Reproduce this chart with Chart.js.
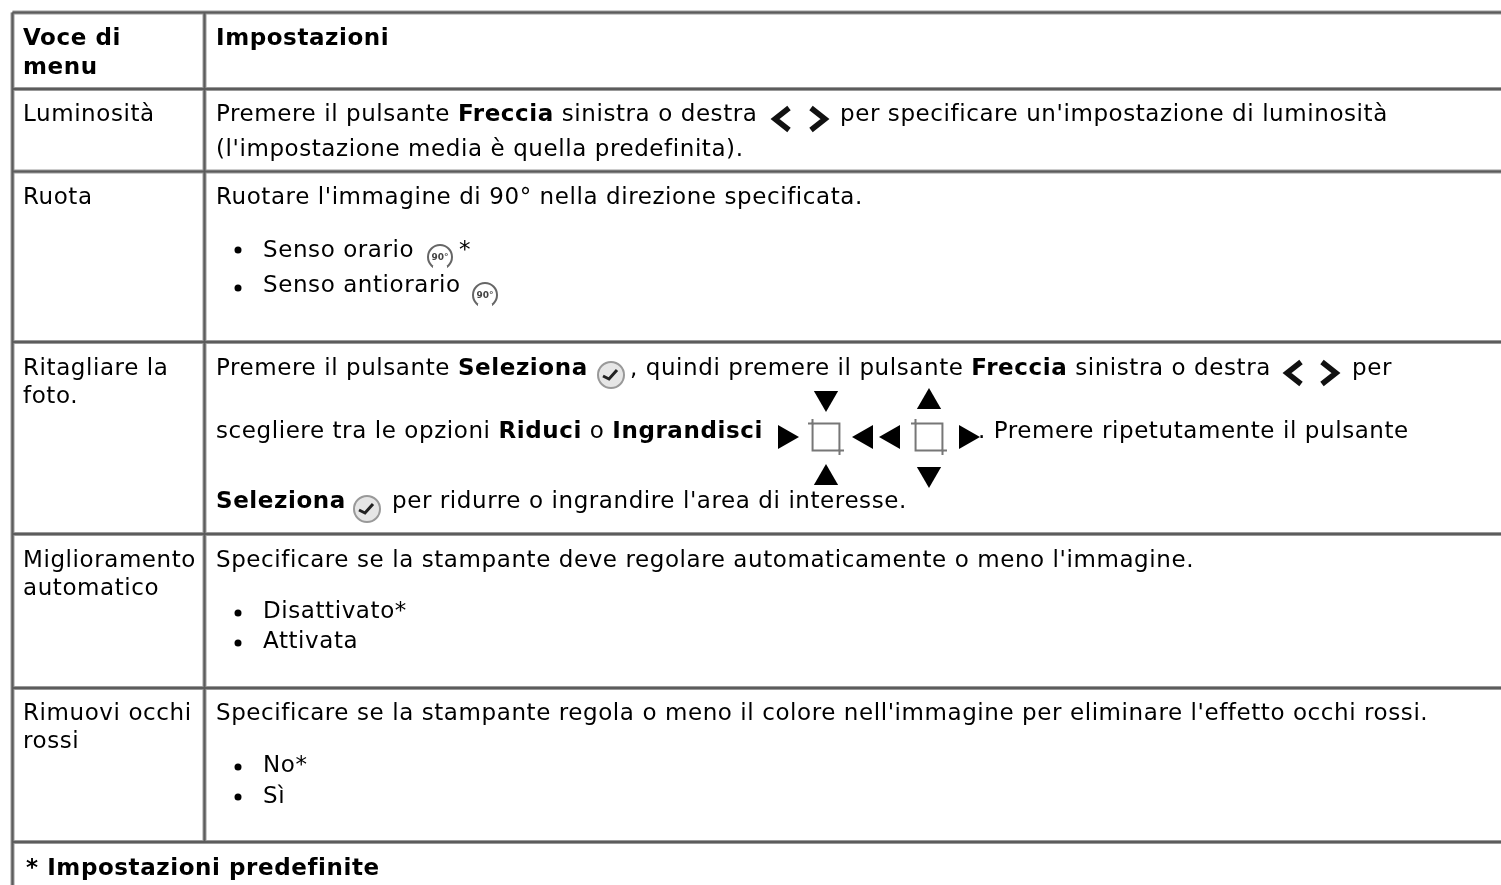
<!DOCTYPE html>
<html>
<head>
<meta charset="utf-8">
<style>
html, body { margin: 0; padding: 0; background: #fff; overflow: hidden; }
#wrap { width: 1501px; height: 885px; position: relative; }
</style>
<script src="https://cdn.jsdelivr.net/npm/chart.js@4"></script>
</head>
<body>
<div id="wrap"><canvas id="table_chart" width="1501" height="885"></canvas></div>
<script>
// table structure, in page units: the chart's axes run 0-1501 and 0-885
var columnEdges = [12.5, 204.5, 1501]
var rowEdges = [12.5, 89, 171.5, 342, 534, 688, 842, 885]

// every text line: x, baseline y, then runs [text, bold]
var textLines = [
	[23, 45, [["Voce di", 1]]],
	[23, 74, [["menu", 1]]],
	[216, 45, [["Impostazioni", 1]]],
	[23, 121, [["Luminosità", 0]]],
	[216, 121, [["Premere il pulsante ", 0], ["Freccia", 1], [" sinistra o destra", 0]]],
	[840, 121, [["per specificare un'impostazione di luminosità", 0]]],
	[216, 156, [["(l'impostazione media è quella predefinita).", 0]]],
	[23, 204, [["Ruota", 0]]],
	[216, 204, [["Ruotare l'immagine di 90° nella direzione specificata.", 0]]],
	[263, 257, [["Senso orario", 0]]],
	[459, 257, [["*", 0]]],
	[263, 292, [["Senso antiorario", 0]]],
	[23, 375, [["Ritagliare la", 0]]],
	[23, 403, [["foto.", 0]]],
	[216, 375, [["Premere il pulsante ", 0], ["Seleziona", 1]]],
	[630, 375, [[", quindi premere il pulsante ", 0], ["Freccia", 1], [" sinistra o destra", 0]]],
	[1352, 375, [["per", 0]]],
	[216, 438, [["scegliere tra le opzioni ", 0], ["Riduci", 1], [" o ", 0], ["Ingrandisci", 1]]],
	[978, 438, [[". Premere ripetutamente il pulsante", 0]]],
	[216, 508, [["Seleziona", 1]]],
	[392, 508, [["per ridurre o ingrandire l'area di interesse.", 0]]],
	[23, 567, [["Miglioramento", 0]]],
	[23, 595, [["automatico", 0]]],
	[216, 567, [["Specificare se la stampante deve regolare automaticamente o meno l'immagine.", 0]]],
	[263, 618, [["Disattivato*", 0]]],
	[263, 648, [["Attivata", 0]]],
	[23, 720, [["Rimuovi occhi", 0]]],
	[23, 748, [["rossi", 0]]],
	[216, 720, [["Specificare se la stampante regola o meno il colore nell'immagine per eliminare l'effetto occhi rossi.", 0]]],
	[263, 772, [["No*", 0]]],
	[263, 803, [["Sì", 0]]],
	[26, 875, [["* Impostazioni predefinite", 1]]]
]
var turnLabels = [[440, 260, "90°"], [485, 298, "90°"]]

// marks
var bulletPoints = [[238, 250], [238, 288], [238, 613], [238, 643], [238, 767], [238, 797]]
var arrowsDown = [[826, 398], [929, 474]]
var arrowsUp = [[929, 402], [826, 478]]
var arrowsRight = [[785, 437], [966, 437]]
var arrowsLeft = [[866, 437], [893, 437]]
var cropSquares = [[826, 437], [929, 437]]
var checkIcons = [[611, 375], [367, 509]]
var turnIcons = [[440, 257], [485, 295]]
var chevrons = [
	[[789, 108], [775, 119], [789, 130]],
	[[811, 108], [825, 119], [811, 130]],
	[[1301, 362], [1287, 373], [1301, 384]],
	[[1322, 362], [1336, 373], [1322, 384]]
]

function toPts(list) {
	return list.map(function(p){ return {x: p[0], y: p[1]} })
}

function lineSet(pts, color, w, order) {
	return {type: "line", data: toPts(pts), borderColor: color, borderWidth: w, pointRadius: 0, parsing: false, order: order || 0}
}

function borderSets() {
	var out = []
	var top = rowEdges[0], bottom = rowEdges[rowEdges.length - 1], split = rowEdges[rowEdges.length - 2]
	var rules = []
	for (var i = 0; i < rowEdges.length - 1; i++) {
		rules.push([[columnEdges[0], rowEdges[i]], [columnEdges[2], rowEdges[i]]])
	}
	rules.push([[columnEdges[0], top], [columnEdges[0], bottom]])
	rules.push([[columnEdges[1], top], [columnEdges[1], split]])
	rules.forEach(function(r){ out.push(lineSet(r, "#999999", 4, 2)) })
	rules.forEach(function(r){ out.push(lineSet(r, "#5c5c5c", 2, 1)) })
	return out
}

function markerSet(list, style, rotation, size) {
	return {type: "scatter", data: toPts(list), pointStyle: style, rotation: rotation, pointRadius: size,
		backgroundColor: "#000000", borderColor: "#000000", borderWidth: 0, parsing: false}
}

function ringSet(list, size, fill, edge) {
	return {type: "scatter", data: toPts(list), pointStyle: "circle", pointRadius: size,
		backgroundColor: fill, borderColor: edge, borderWidth: 2, parsing: false}
}

var datasets = borderSets()
datasets.push(markerSet(bulletPoints, "circle", 0, 3.5))
datasets.push(markerSet(arrowsUp, "triangle", 0, 14))
datasets.push(markerSet(arrowsDown, "triangle", 180, 14))
datasets.push(markerSet(arrowsRight, "triangle", 90, 14))
datasets.push(markerSet(arrowsLeft, "triangle", 270, 14))
datasets.push(ringSet(checkIcons, 13, "#e6e6e6", "#999999"))
datasets.push(ringSet(turnIcons, 12, "#ffffff", "#666666"))
checkIcons.forEach(function(c){
	datasets.push(lineSet([[c[0] - 8, c[1] + 1], [c[0] - 2, c[1] + 4], [c[0] + 6, c[1] - 5]], "#222222", 3, -1))
})
// the turn icons are open arcs, not whole rings
turnIcons.forEach(function(c){
	datasets.push(lineSet([[c[0] - 7, c[1] + 12], [c[0] + 7, c[1] + 12]], "#ffffff", 6, -1))
})
datasets.push({type: "scatter", data: toPts(cropSquares), pointStyle: "rect", pointRadius: 19,
	backgroundColor: "rgba(0,0,0,0)", borderColor: "#777777", borderWidth: 2, parsing: false})
cropSquares.forEach(function(c){
	datasets.push(lineSet([[c[0] - 18, c[1] - 13.5], [c[0] - 13.5, c[1] - 13.5], [c[0] - 13.5, c[1] - 18]], "#777777", 2))
	datasets.push(lineSet([[c[0] + 18, c[1] + 13.5], [c[0] + 13.5, c[1] + 13.5], [c[0] + 13.5, c[1] + 18]], "#777777", 2))
})
chevrons.forEach(function(c){
	datasets.push(lineSet(c, "#111111", 5.5))
})

var textPlugin = {
	id: "table_text",
	afterDatasetsDraw: function(chart) {
		var ctx = chart.ctx, sx = chart.scales.x, sy = chart.scales.y
		ctx.save()
		ctx.fillStyle = "#000000"
		ctx.textBaseline = "alphabetic"
		ctx.letterSpacing = "0.58px"
		textLines.forEach(function(l){
			var x = sx.getPixelForValue(l[0]), y = sy.getPixelForValue(l[1])
			l[2].forEach(function(run){
				ctx.font = (run[1] ? "bold " : "") + "23px 'DejaVu Sans'"
				ctx.fillText(run[0], x, y)
				x += ctx.measureText(run[0]).width
			})
		})
		ctx.letterSpacing = "0px"
		ctx.font = "bold 9px 'DejaVu Sans'"
		ctx.textAlign = "center"
		ctx.fillStyle = "#444444"
		turnLabels.forEach(function(a){ ctx.fillText(a[2], sx.getPixelForValue(a[0]), sy.getPixelForValue(a[1])) })
		ctx.restore()
	}
}

var ctx = document.getElementById("table_chart")
var tableChart = new Chart(ctx, {
	type: "scatter",
	data: {datasets: datasets},
	plugins: [textPlugin],
	options: {
		responsive: false,
		animation: false,
		layout: {padding: 0, autoPadding: false},
		plugins: {legend: {display: false}, tooltip: {enabled: false}, title: {display: false}},
		scales: {
			x: {type: "linear", min: 0, max: 1501, display: false},
			y: {type: "linear", min: 0, max: 885, reverse: true, display: false}
		}
	}
})
</script>
</body>
</html>
